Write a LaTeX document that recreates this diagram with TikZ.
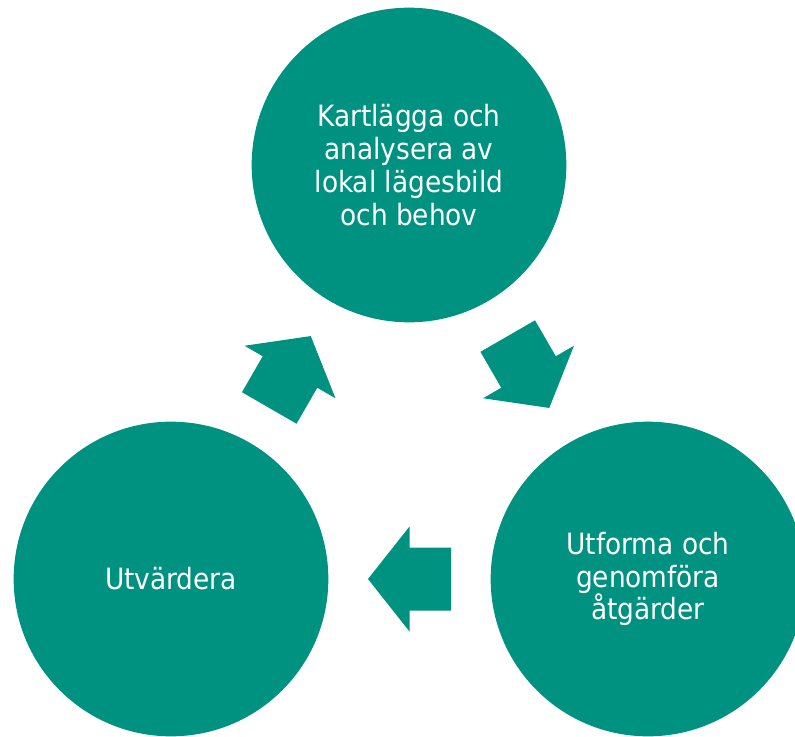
\documentclass[tikz,border=0pt]{standalone}
\usepackage{fontspec}
\setmainfont{DejaVu Sans Condensed}
\usetikzlibrary{calc}
\definecolor{cycleteal}{RGB}{0,146,128}
\tikzset{
	stage/.style={circle, fill=cycleteal, minimum size=236pt, inner sep=0pt, text=white, align=center, font=\fontsize{22}{24.6}\selectfont},
	blockarrow/.style={fill=cycleteal},
}
\begin{document}
\begin{tikzpicture}[x=0.75pt,y=0.75pt,yscale=-1,xscale=1]
	\useasboundingbox (0,0) rectangle (795,736);
	\clip (0,0) rectangle (795,736);
	
	%Circles
	\node [stage] (plan) at (409,165) {Kartlägga och\\analysera av\\lokal lägesbild\\och behov};
	\node [stage] (act) at (648,579) {Utforma och\\genomföra\\åtgärder};
	\node [stage] (eval) at (171,579) {Utvärdera};
	
	%Block arrows between the circles
	\foreach \from/\to/\ang in {eval/plan/-60, plan/act/60, act/eval/180}
		\fill [blockarrow, shift={($(\from)!0.5!(\to)$)}, rotate=\ang] (41.5,0) -- (0,-52.5) -- (0,-31.5) -- (-41.5,-31.5) -- (-41.5,31.5) -- (0,31.5) -- (0,52.5) -- cycle ;
	
\end{tikzpicture}
\end{document}
